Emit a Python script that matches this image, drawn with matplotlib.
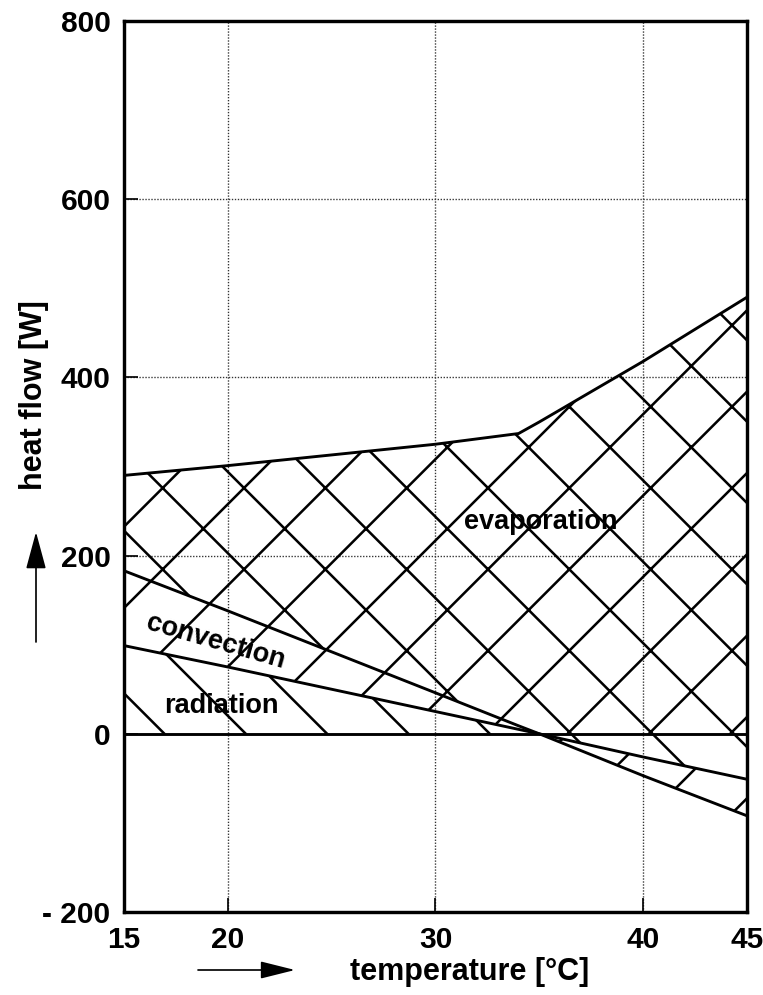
import matplotlib.pyplot as plt
import numpy as np

# Heat flow components versus ambient temperature (stacked)
temperature = np.array([15, 20, 25, 30, 34, 35, 40, 45])
radiation = np.array([99, 75, 50, 25, 5, 0, -26, -51])
convection = np.array([84, 63, 42, 21, 4, 0, -21, -41])
evaporation = np.array([107, 163, 221, 279, 328, 350, 418, 490])

x_ticks = [15, 20, 30, 40, 45]
y_ticks = [-200, 0, 200, 400, 600, 800]
y_tick_labels = ['- 200', '0', '200', '400', '600', '800']

DPI = 244
plt.rcParams['font.family'] = ['Liberation Sans', 'DejaVu Sans']
plt.rcParams['font.weight'] = 'bold'
plt.rcParams['hatch.linewidth'] = 0.75
plt.rcParams['hatch.color'] = 'black'

fig = plt.figure(figsize=(763 / DPI, 995 / DPI), dpi=DPI)
ax = fig.add_axes([0.1625, 0.0834, 0.979 - 0.1625, 0.9789 - 0.0834])

# stacking: radiation from zero, convection on top of radiation,
# evaporation on top of the positive part of the sum
rad_top = radiation
conv_top = radiation + convection
evap_base = np.clip(conv_top, 0, None)
evap_top = evap_base + evaporation

ax.fill_between(temperature, 0, rad_top, facecolor='none', edgecolor='black',
                linewidth=0, hatch='\\')
ax.fill_between(temperature, rad_top, conv_top, facecolor='none', edgecolor='black',
                linewidth=0, hatch='/')
ax.fill_between(temperature, evap_base, evap_top, facecolor='none', edgecolor='black',
                linewidth=0, hatch='x')

lw = 0.85
ax.plot(temperature, rad_top, color='black', lw=lw)
ax.plot(temperature, conv_top, color='black', lw=lw)
ax.plot(temperature, evap_top, color='black', lw=lw)
ax.axhline(0, color='black', lw=lw)

ax.set_xlim(15, 45)
ax.set_ylim(-200, 800)
ax.set_xticks(x_ticks)
ax.set_yticks(y_ticks)
ax.set_yticklabels(y_tick_labels)
ax.tick_params(direction='in', length=4, width=0.5, labelsize=8.8, pad=4)

for x in [20, 30, 40]:
    ax.axvline(x, color='#333333', lw=0.4, ls=(0, (1, 1.2)), zorder=0)
for y in [200, 400, 600]:
    ax.axhline(y, color='#333333', lw=0.4, ls=(0, (1, 1.2)), zorder=0)

for s in ax.spines.values():
    s.set_linewidth(1.0)

ax.text(35.05, 238, 'evaporation', fontsize=8.0, ha='center', va='center')
ax.text(19.4, 103, 'convection', fontsize=8.0, ha='center', va='center', rotation=-16)
ax.text(19.7, 31, 'radiation', fontsize=8.0, ha='center', va='center')

# axis labels with direction arrows
fig.text(470 / 763, 1 - 972 / 995, 'temperature [°C]', fontsize=9,
         ha='center', va='center')
fig.text(34 / 763, 1 - 395 / 995, 'heat flow [W]', fontsize=9,
         ha='center', va='center', rotation=90)

ax.annotate('', xy=(295, 995 - 970), xytext=(198, 995 - 970), xycoords='figure pixels',
            textcoords='figure pixels',
            arrowprops=dict(arrowstyle='-|>,head_length=1.0,head_width=0.25',
                            mutation_scale=8.8, color='black', lw=0.5,
                            shrinkA=0, shrinkB=0))
ax.annotate('', xy=(36, 995 - 532), xytext=(36, 995 - 642), xycoords='figure pixels',
            textcoords='figure pixels',
            arrowprops=dict(arrowstyle='-|>,head_length=1.0,head_width=0.27',
                            mutation_scale=9.5, color='black', lw=0.5,
                            shrinkA=0, shrinkB=0))

fig.savefig('out.png', dpi=DPI)
